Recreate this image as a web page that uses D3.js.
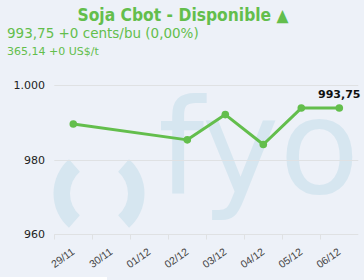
<!DOCTYPE html>
<html>
<head>
<meta charset="utf-8">
<script src="https://cdn.jsdelivr.net/npm/d3@7"></script>
<style>
  html, body { margin: 0; padding: 0; background: #edf1f8; }
  svg { display: block; font-family: "DejaVu Sans", Verdana, sans-serif; }
</style>
</head>
<body>
<svg id="chart"></svg>
<script>
// Chart data
const categories = ["29/11", "30/11", "01/12", "02/12", "03/12", "04/12", "05/12", "06/12"];
const values = [989.5, null, null, 985.25, 992, 984, 993.75, 993.75];
const yTicks = [960, 980, 1000];
const title = "Soja Cbot - Disponible \u25B2";
const quoteLine = "993,75 +0 cents/bu (0,00%)";
const tonLine = "365,14 +0 US$/t";

const width = 364, height = 280;
const green = "#63be4c";
const svg = d3.select("svg#chart").attr("width", width).attr("height", height);

const locale = d3.formatLocale({ decimal: ",", thousands: ".", grouping: [3], currency: ["", ""] });
const fmtAxis = locale.format(",.0f");
const fmtLabel = locale.format(",.2f");

svg.append("rect").attr("width", width).attr("height", height).attr("fill", "#edf1f8");
svg.append("rect").attr("x", 0).attr("y", 277).attr("width", 107).attr("height", 3).attr("fill", "#fff");

// Scales
const x = d3.scaleBand().domain(categories).range([54.3, 358.3]);
const y = d3.scaleLinear().domain([960, 1000]).range([234.3, 84.7]);

// Watermark logo
const wm = svg.append("g").attr("fill", "#d6e6f0");
const arc = d3.arc().innerRadius(29).outerRadius(45.5);
wm.append("path").attr("transform", "translate(99,193.5)")
  .attr("d", arc({ startAngle: -2.42, endAngle: -0.72 }));
wm.append("path").attr("transform", "translate(99,193.5)")
  .attr("d", arc({ startAngle: 0.72, endAngle: 2.42 }));
wm.append("text").attr("x", 158).attr("y", 193)
  .attr("font-size", 131).text("fyo");

// Grid lines
svg.append("g").selectAll("line")
  .data(yTicks)
  .join("line")
  .attr("x1", 54.3).attr("x2", 358.3)
  .attr("y1", d => Math.round(y(d)) + 0.5).attr("y2", d => Math.round(y(d)) + 0.5)
  .attr("stroke", "#dfe1e3");

// Y axis labels
svg.append("g").selectAll("text")
  .data(yTicks)
  .join("text")
  .attr("x", 45).attr("y", d => y(d) + 4)
  .attr("text-anchor", "end").attr("font-size", 11).attr("fill", "#222")
  .text(d => fmtAxis(d));

// X axis ticks and labels
const xAxis = d3.axisBottom(x).tickSize(0).tickPadding(0);
const xg = svg.append("g").attr("transform", `translate(0,${Math.round(y(960)) + 0.5})`).call(xAxis);
xg.select(".domain").remove();
xg.selectAll(".tick text")
  .attr("font-family", null).attr("font-size", 10.5).attr("fill", "#444")
  .attr("text-anchor", "end").attr("dy", null).attr("y", 0)
  .attr("transform", "translate(2,19) rotate(-35)");
xg.selectAll(".tickmark")
  .data(categories)
  .join("line")
  .attr("class", "tickmark")
  .attr("x1", d => Math.round(x(d)) + 0.5).attr("x2", d => Math.round(x(d)) + 0.5)
  .attr("y1", 0).attr("y2", 5)
  .attr("stroke", "#dfe1e3");

// Series line (nulls connected)
const points = categories.map((c, i) => ({ c, v: values[i] })).filter(d => d.v != null);
const line = d3.line().x(d => x(d.c) + x.bandwidth() / 2).y(d => y(d.v));
svg.append("path").datum(points)
  .attr("d", line).attr("fill", "none")
  .attr("stroke", green).attr("stroke-width", 3).attr("stroke-linejoin", "round");
svg.append("g").selectAll("circle")
  .data(points)
  .join("circle")
  .attr("cx", d => x(d.c) + x.bandwidth() / 2).attr("cy", d => y(d.v))
  .attr("r", 3.8).attr("fill", green);

// Last value label
const last = points[points.length - 1];
svg.append("text")
  .attr("x", x(last.c) + x.bandwidth() / 2).attr("y", y(last.v) - 10.5)
  .attr("text-anchor", "middle").attr("font-size", 11).attr("font-weight", "bold").attr("fill", "#111")
  .text(fmtLabel(last.v));

// Header texts
svg.append("text").attr("x", 183).attr("y", 21)
  .attr("text-anchor", "middle").attr("font-family", "'DejaVu Sans Condensed', 'DejaVu Sans', sans-serif")
  .attr("font-size", 17.3).attr("font-weight", "bold").attr("fill", green)
  .text(title);
svg.append("text").attr("x", 7).attr("y", 38)
  .attr("font-size", 13.5).attr("fill", green).text(quoteLine);
svg.append("text").attr("x", 7).attr("y", 55)
  .attr("font-size", 11).attr("fill", green).text(tonLine);
</script>
</body>
</html>
